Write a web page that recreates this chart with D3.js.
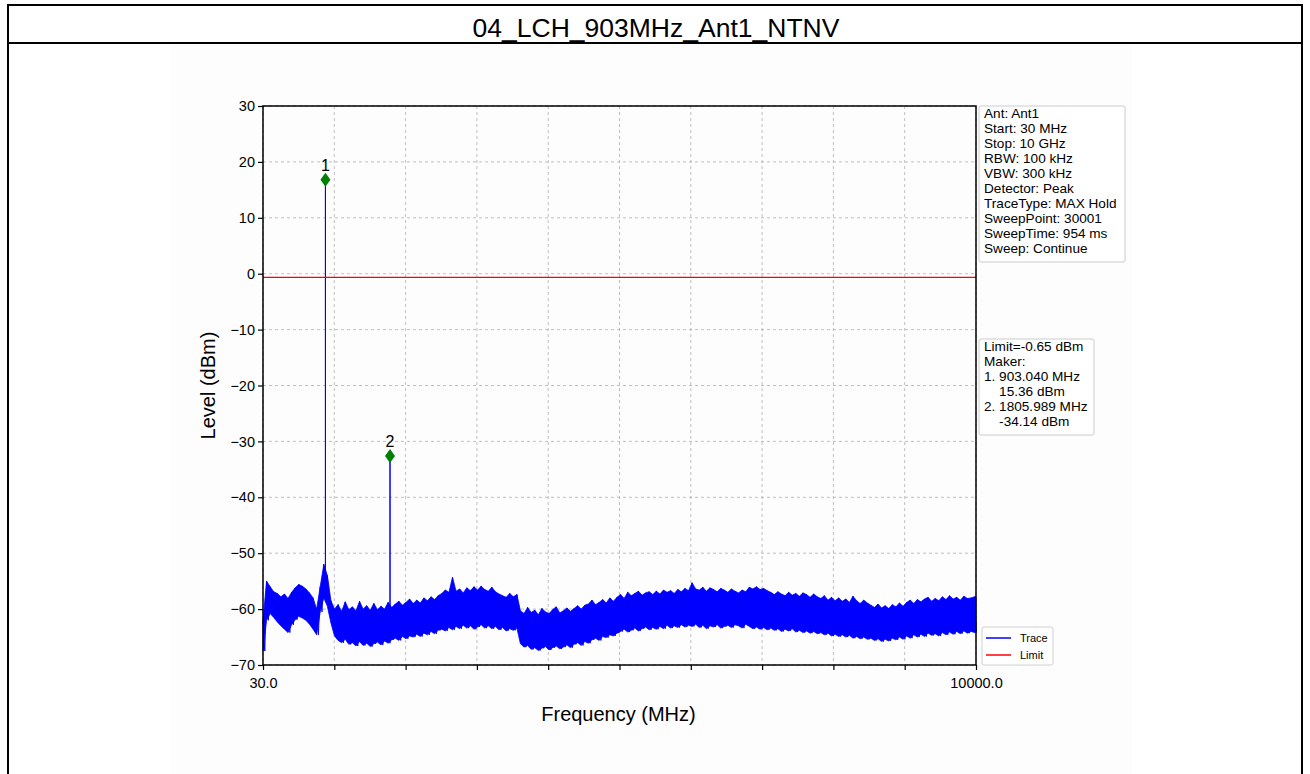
<!DOCTYPE html>
<html><head><meta charset="utf-8">
<script src="https://cdn.jsdelivr.net/npm/d3@7"></script>
<style>
html,body{margin:0;padding:0;background:#fff;}
svg{display:block;font-family:"Liberation Sans",Arial,sans-serif;}
</style></head>
<body>
<svg id="c" width="1310" height="774"></svg>
<script>
const title = "04_LCH_903MHz_Ant1_NTNV";
const xDomain = [30, 10000];
const yDomain = [-70, 30];
const yTicks = [30, 20, 10, 0, -10, -20, -30, -40, -50, -60, -70];
const xTickCount = 10;
const xTickLabels = ["30.0", "", "", "", "", "", "", "", "", "", "10000.0"];
const limitLevel = -0.65;
const markerFreqs = [903.04, 1805.989];
const markerLevels = [16.8, -32.6];
const markerNames = ["1", "2"];
// trace envelope sampled every 50 MHz from 30 MHz (upper / lower excursion of the MAX-hold trace)
const traceStart = 30, traceStep = 50;
const traceTop = [
-62.0,-55.0,-56.0,-56.9,-57.2,-57.8,-57.3,-58.1,-57.0,-56.2,
-55.6,-55.9,-56.4,-57.1,-58.0,-60.0,-56.0,-52.0,-54.0,-58.5,
-60.0,-59.2,-60.4,-58.7,-60.1,-59.6,-60.3,-58.6,-60.0,-59.4,
-60.2,-59.0,-60.1,-59.5,-60.0,-58.8,-59.7,-59.1,-58.6,-59.3,
-58.8,-58.2,-59.0,-58.4,-58.9,-58.0,-58.5,-57.8,-58.3,-57.6,
-57.2,-56.6,-57.0,-54.3,-56.8,-56.4,-57.1,-56.2,-56.7,-56.0,
-56.6,-55.9,-56.5,-56.8,-56.1,-56.9,-57.3,-57.6,-57.9,-57.2,
-57.8,-57.4,-60.3,-60.8,-59.7,-60.6,-60.2,-61.0,-59.9,-60.5,
-60.8,-60.1,-59.6,-60.7,-60.3,-59.8,-60.4,-59.9,-59.4,-60.0,
-59.3,-59.1,-58.4,-59.2,-58.8,-58.3,-58.9,-58.0,-58.6,-57.9,
-57.4,-58.1,-57.0,-57.6,-57.2,-56.8,-57.5,-57.1,-56.9,-57.4,
-56.8,-57.3,-56.6,-57.0,-56.7,-57.2,-56.5,-56.9,-56.3,-56.7,
-55.3,-56.4,-56.6,-56.1,-56.8,-56.2,-56.5,-56.9,-56.3,-56.6,
-57.0,-56.4,-56.8,-57.1,-56.6,-56.9,-56.1,-56.4,-56.0,-56.5,
-56.3,-56.7,-57.0,-57.4,-56.9,-57.3,-57.6,-57.0,-57.5,-57.2,
-57.7,-57.1,-57.4,-57.9,-57.3,-57.8,-58.1,-57.6,-58.4,-57.9,
-58.5,-58.0,-58.6,-58.2,-58.8,-57.7,-58.5,-59.0,-58.4,-58.9,
-59.3,-59.7,-59.1,-59.8,-59.4,-59.9,-59.2,-59.6,-58.9,-59.5,
-58.8,-58.4,-59.0,-58.3,-58.7,-58.2,-57.9,-58.6,-58.1,-58.5,
-57.8,-58.3,-57.6,-58.2,-57.9,-58.4,-57.7,-58.1,-58.0,-57.8];
const traceBottom = [
-67.5,-62.0,-60.8,-61.5,-62.3,-63.0,-63.6,-64.2,-62.8,-61.9,
-61.3,-61.6,-62.0,-62.7,-63.6,-64.6,-60.5,-58.0,-59.5,-62.5,
-64.8,-65.6,-66.0,-65.4,-66.3,-66.0,-66.6,-65.8,-66.5,-66.1,
-66.7,-66.2,-65.9,-66.4,-65.7,-66.1,-65.5,-65.2,-65.6,-64.9,
-65.3,-64.8,-65.0,-64.5,-64.9,-64.3,-64.6,-64.0,-64.4,-63.8,
-63.6,-63.9,-63.3,-63.7,-63.1,-63.5,-62.9,-63.4,-63.0,-63.6,
-63.2,-62.8,-63.4,-63.0,-63.5,-63.1,-63.7,-63.3,-63.9,-63.5,
-63.8,-63.4,-66.2,-66.8,-66.5,-67.2,-66.9,-67.4,-67.0,-66.7,
-67.3,-66.9,-66.6,-67.1,-66.8,-66.4,-66.9,-66.3,-66.0,-66.5,
-65.8,-66.1,-65.5,-65.2,-65.6,-64.9,-65.1,-64.6,-64.8,-64.3,
-64.0,-63.6,-64.1,-63.8,-63.4,-63.9,-63.5,-63.2,-63.7,-63.3,
-63.6,-63.1,-63.5,-62.9,-63.4,-63.0,-63.3,-62.8,-63.2,-62.9,
-63.1,-62.7,-63.3,-62.9,-63.5,-63.0,-63.2,-62.8,-63.4,-63.1,
-62.9,-63.3,-62.8,-63.0,-63.4,-62.7,-63.1,-63.5,-63.2,-63.6,
-63.3,-63.7,-63.4,-63.8,-63.5,-64.0,-63.6,-63.9,-63.5,-64.1,
-63.8,-64.2,-63.9,-64.3,-64.0,-64.4,-64.2,-64.6,-64.3,-64.8,
-64.5,-64.9,-64.6,-65.0,-64.7,-65.2,-64.9,-65.3,-65.0,-65.4,
-65.2,-65.6,-65.3,-65.8,-65.4,-65.7,-65.2,-65.5,-65.0,-65.4,
-64.8,-65.2,-64.6,-65.0,-64.5,-64.9,-64.3,-64.7,-64.4,-64.8,
-64.2,-64.6,-64.1,-64.5,-64.0,-64.4,-63.9,-64.3,-64.0,-64.2];
const infoLines = ["Ant: Ant1","Start: 30 MHz","Stop: 10 GHz","RBW: 100 kHz","VBW: 300 kHz","Detector: Peak","TraceType: MAX Hold","SweepPoint: 30001","SweepTime: 954 ms","Sweep: Continue"];
const markerInfo = ["Limit=-0.65 dBm","Maker:","1. 903.040 MHz","    15.36 dBm","2. 1805.989 MHz","    -34.14 dBm"];
const legendItems = [{name:"Trace", color:"#0000ff"}, {name:"Limit", color:"#ff0000"}];

const svg = d3.select("#c");
// frame
svg.append("rect").attr("x",170).attr("y",45).attr("width",962).attr("height",729).attr("fill","#fdfdfd");
svg.append("rect").attr("x",8).attr("y",5).attr("width",1294).attr("height",780).attr("fill","none").attr("stroke","#000").attr("stroke-width",2);
svg.append("line").attr("x1",8).attr("x2",1302).attr("y1",43).attr("y2",43).attr("stroke","#000").attr("stroke-width",2);
svg.append("text").attr("x",656).attr("y",37).attr("text-anchor","middle").attr("font-size",26.5).text(title);

const L=263, R=976, T=106, B=665;
const x = d3.scaleLinear().domain(xDomain).range([L,R]);
const y = d3.scaleLinear().domain(yDomain).range([B,T]);
const xt = d3.range(xTickCount+1).map(i => xDomain[0] + i*(xDomain[1]-xDomain[0])/xTickCount);

const g = svg.append("g");
// grid
g.selectAll(".gx").data(xt).join("line").attr("x1",d=>x(d)).attr("x2",d=>x(d)).attr("y1",T).attr("y2",B)
 .attr("stroke","#b0b0b0").attr("stroke-width",0.8).attr("stroke-dasharray","3,3");
g.selectAll(".gy").data(yTicks).join("line").attr("x1",L).attr("x2",R).attr("y1",d=>y(d)).attr("y2",d=>y(d))
 .attr("stroke","#b0b0b0").attr("stroke-width",0.8).attr("stroke-dasharray","3,3");

// trace band (area between envelopes) + zigzag trace
const env = traceTop.map((v,i)=>({f: traceStart + i*traceStep, top: v, bot: traceBottom[i]}));
env.push({f: xDomain[1], top: traceTop[traceTop.length-1], bot: traceBottom[traceBottom.length-1]});
const area = d3.area().x(d=>x(d.f)).y0(d=>y(d.bot)).y1(d=>y(d.top));
g.append("path").attr("d",area(env)).attr("fill","#0000ff").attr("stroke","#0000ff").attr("stroke-width",0.8);

const pts = [];
traceTop.forEach((v,i)=>{
  const f = traceStart + i*traceStep;
  pts.push([f, v]);
  pts.push([f + traceStep/2, traceBottom[i]]);
});
markerFreqs.forEach((f,k)=>{
  const b = traceBottom[Math.round((f-traceStart)/traceStep)];
  pts.push([f-0.01, b]);
  pts.push([f, markerLevels[k]]);
  pts.push([f+0.01, b]);
});
pts.sort((a,b)=>a[0]-b[0]);
const line = d3.line().x(d=>x(d[0])).y(d=>y(d[1]));
g.append("path").attr("d",line(pts)).attr("fill","none").attr("stroke","#0000ff").attr("stroke-width",1);

// limit
g.append("line").attr("x1",L).attr("x2",R).attr("y1",y(limitLevel)).attr("y2",y(limitLevel)).attr("stroke","#ff0000").attr("stroke-width",1.2);

// markers
markerFreqs.forEach((f,k)=>{
  const cx=x(f), cy=y(markerLevels[k]);
  g.append("path").attr("d",`M${cx},${cy-7}L${cx+5},${cy}L${cx},${cy+7}L${cx-5},${cy}Z`).attr("fill","#008000");
  g.append("text").attr("x",cx).attr("y",cy-9).attr("text-anchor","middle").attr("font-size",16).text(markerNames[k]);
});

// axes
const ax = d3.axisBottom(x).tickValues(xt).tickSize(5).tickFormat((d,i)=>xTickLabels[i]);
const xa = svg.append("g").attr("transform",`translate(0,${B})`).call(ax);
xa.select(".domain").remove();
xa.selectAll("line").attr("stroke","#000").attr("stroke-width",1.2);
xa.selectAll("text").attr("font-size",14.5).attr("fill","#000").attr("dy","1.05em").attr("font-family","Liberation Sans, Arial, sans-serif");
const ay = d3.axisLeft(y).tickValues(yTicks).tickSize(5).tickFormat(d=>d<0?"\u2212"+Math.abs(d):d);
const ya = svg.append("g").attr("transform",`translate(${L},0)`).call(ay);
ya.select(".domain").remove();
ya.selectAll("line").attr("stroke","#000").attr("stroke-width",1.2);
ya.selectAll("text").attr("font-size",14.5).attr("fill","#000").attr("font-family","Liberation Sans, Arial, sans-serif");
svg.append("rect").attr("x",L).attr("y",T).attr("width",R-L).attr("height",B-T).attr("fill","none").attr("stroke","#000").attr("stroke-width",1.5);

svg.append("text").attr("x",(L+R)/2-1).attr("y",721).attr("text-anchor","middle").attr("font-size",20).text("Frequency (MHz)");
svg.append("text").attr("transform",`translate(215,${(T+B)/2}) rotate(-90)`).attr("text-anchor","middle").attr("font-size",20).text("Level (dBm)");

// info boxes
function box(x0,y0,w,lines){
  const h = lines.length*15+6;
  svg.append("rect").attr("x",x0).attr("y",y0).attr("width",w).attr("height",h).attr("rx",2)
    .attr("fill","#fff").attr("fill-opacity",0.8).attr("stroke","#cccccc");
  svg.append("g").selectAll("text").data(lines).join("text")
    .attr("x",x0+5).attr("y",(d,i)=>y0+12+i*15).attr("font-size",13.6)
    .style("white-space","pre").text(d=>d);
}
box(979,106,146,infoLines);
box(979,339,115,markerInfo);

// legend
const lg = svg.append("g");
lg.append("rect").attr("x",982).attr("y",627).attr("width",71).attr("height",38).attr("rx",2).attr("fill","#fff").attr("stroke","#d0d0d0");
legendItems.forEach((it,i)=>{
  const yy = 638 + i*17;
  lg.append("line").attr("x1",986).attr("x2",1011).attr("y1",yy).attr("y2",yy).attr("stroke",it.color).attr("stroke-width",1.5);
  lg.append("text").attr("x",1020).attr("y",yy+4).attr("font-size",11).text(it.name);
});
</script>
</body></html>
